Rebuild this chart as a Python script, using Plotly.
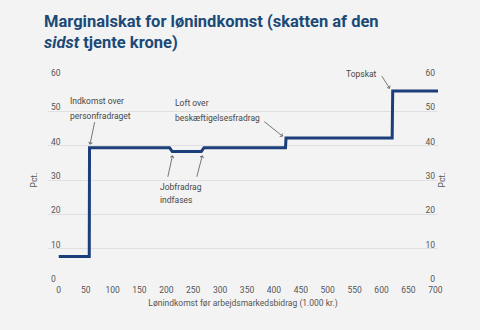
import plotly.graph_objects as go

# Data (income in 1.000 kr., marginal tax rate in pct.)
income = [0, 56.7, 57.2, 206, 211, 265, 270, 421.5, 422.5, 619.8, 620.8, 705]
rate = [7.7, 7.7, 39.4, 39.4, 38.3, 38.3, 39.4, 39.4, 42.2, 42.2, 55.9, 55.9]

x_ticks = [0, 50, 100, 150, 200, 250, 300, 350, 400, 450, 500, 550, 600, 650, 700]
y_ticks = [0, 10, 20, 30, 40, 50, 60]

# Annotation texts: (text, x, y) left-aligned labels
labels = [
    ("Indkomst over", 17, 53.0),
    ("personfradraget", 17, 48.6),
    ("Loft over", 212, 52.4),
    ("beskæftigelsesfradrag", 212, 48.0),
    ("Jobfradrag", 184, 28.0),
    ("indfases", 184, 24.3),
]
topskat_label = ("Topskat", 531)
# Arrows: (head x, head y, tail dx px, tail dy px)
arrows = [
    (58.0, 40.3, 5, -24),
    (416.5, 42.7, -20, -16),
    (615.5, 56.6, -9, -14),
    (211.5, 37.2, -5, 23),
    (267.0, 37.2, -6, 23),
]

title_color = "#1b4a78"
line_color = "#1c3f7c"
text_color = "#555555"
bg = "#f3f3f3"
FS = 8.5

fig = go.Figure()
fig.add_trace(go.Scatter(x=income, y=rate, mode="lines",
                         line=dict(color=line_color, width=3),
                         hoverinfo="skip", showlegend=False))
fig.add_trace(go.Scatter(x=income, y=rate, mode="lines", yaxis="y2",
                         line=dict(color="rgba(0,0,0,0)", width=0),
                         hoverinfo="skip", showlegend=False))

ann_font = dict(family="Roboto, sans-serif", size=FS, color="#484848")
annotations = []
for t, x, y in labels:
    annotations.append(dict(x=x, y=y, text=t, showarrow=False, xanchor="left",
                            yanchor="middle", font=ann_font))
annotations.append(dict(x=topskat_label[1], y=1 + (77 - 74) / 206, yref="paper",
                        text=topskat_label[0], showarrow=False, xanchor="left",
                        yanchor="middle", font=ann_font))
for hx, hy, dx, dy in arrows:
    annotations.append(dict(x=hx, y=hy, text="", showarrow=True, arrowhead=4,
                            arrowsize=0.9, arrowwidth=0.8, arrowcolor="#555555",
                            axref="pixel", ayref="pixel", ax=dx, ay=dy))
annotations.append(dict(
    text="Marginalskat for lønindkomst (skatten af den<br><i>sidst</i> tjente krone)",
    xref="paper", yref="paper", x=(42 - 48) / 390, y=1 + (77 - 10) / 206,
    xanchor="left", yanchor="top", align="left", showarrow=False,
    font=dict(family="Roboto, sans-serif", size=16.5, color=title_color, weight="bold")))

fig.update_layout(
    width=480, height=330,
    paper_bgcolor=bg, plot_bgcolor=bg,
    margin=dict(l=48, r=42, t=77, b=47),
    font=dict(family="Roboto, sans-serif", size=FS, color=text_color),
    xaxis=dict(range=[-20, 705], tickvals=x_ticks, showgrid=False, zeroline=False,
               showline=False, ticks="", tickfont=dict(size=FS, color=text_color),
               title=dict(text="Lønindkomst før arbejdsmarkedsbidrag (1.000 kr.)",
                          font=dict(size=FS, color=text_color), standoff=6)),
    yaxis=dict(range=[0, 60], tickvals=y_ticks, showgrid=True, gridcolor="#e0e0e0",
               gridwidth=1, zeroline=False, showline=False, ticks="",
               ticklabelposition="inside top", ticklabeloverflow="allow",
               ticklabelshift=2,
               tickfont=dict(size=FS, color=text_color),
               title=dict(text="Pct.", font=dict(size=FS, color=text_color), standoff=12)),
    yaxis2=dict(range=[0, 60], tickvals=y_ticks, overlaying="y", side="right",
                showgrid=False, zeroline=False, showline=False, ticks="",
                ticklabelposition="inside top", ticklabeloverflow="allow",
                ticklabelshift=2,
                tickfont=dict(size=FS, color=text_color),
                title=dict(text="Pct.", font=dict(size=FS, color=text_color), standoff=4)),
    annotations=annotations,
)

fig.write_html("out.html")
